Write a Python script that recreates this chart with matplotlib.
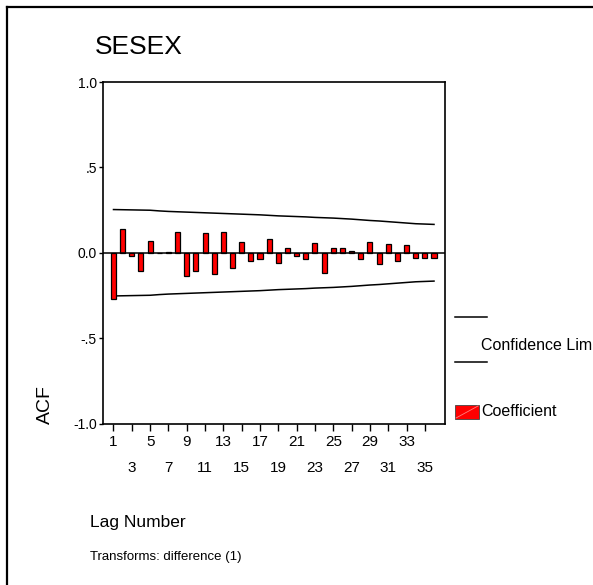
import matplotlib.pyplot as plt
from matplotlib.patches import Rectangle
from matplotlib.lines import Line2D

plt.rcParams['font.family'] = ['Liberation Sans', 'DejaVu Sans']

lags = list(range(1, 37))
acf = [
    -0.273, 0.140, -0.020, -0.107, 0.070, -0.004,
    0.003, 0.123, -0.136, -0.107, 0.115, -0.127,
    0.123, -0.092, 0.062, -0.049, -0.039, 0.080,
    -0.058, 0.025, -0.020, -0.039, 0.055, -0.117,
    0.025, 0.025, 0.008, -0.039, 0.062, -0.064,
    0.053, -0.049, 0.043, -0.029, -0.029, -0.029,
]
conf = [
    0.253, 0.252, 0.251, 0.250, 0.249, 0.245,
    0.242, 0.240, 0.238, 0.236, 0.234, 0.232,
    0.230, 0.228, 0.226, 0.224, 0.222, 0.219,
    0.216, 0.214, 0.212, 0.210, 0.207, 0.205,
    0.203, 0.200, 0.197, 0.193, 0.189, 0.186,
    0.182, 0.178, 0.174, 0.170, 0.168, 0.166,
]
yticks = [-1.0, -0.5, 0.0, 0.5, 1.0]
ytick_labels = ['-1.0', '-.5', '0.0', '.5', '1.0']
xticks = list(range(1, 36, 2))

W, H = 593, 585
fig = plt.figure(figsize=(W / 100, H / 100), dpi=100)

# outer frame, running off the right and bottom edges
fig.add_artist(Line2D([7 / W, 1.0], [1 - 7 / H, 1 - 7 / H], color='black', lw=1.6))
fig.add_artist(Line2D([7 / W, 7 / W], [1 - 7 / H, 0.0], color='black', lw=1.6))

ax = fig.add_axes([102.5 / W, 1 - 423.5 / H, (445 - 102.5) / W, (423.5 - 82) / H])
ax.bar(lags, acf, width=0.55, color='#ff0000', edgecolor='black', linewidth=0.9, zorder=3)
ax.plot(lags, conf, color='black', lw=1.1)
ax.plot(lags, [-c for c in conf], color='black', lw=1.1)
ax.axhline(0, color='black', lw=1.1, zorder=4)

ax.set_xlim(-0.2, 37.2)
ax.set_ylim(-1, 1)
ax.set_yticks(yticks)
ax.set_yticklabels(ytick_labels, fontsize=10)
ax.set_xticks(xticks)
ax.set_xticklabels([str(t) if i % 2 == 0 else '\n\n' + str(t) for i, t in enumerate(xticks)],
                   fontsize=11, linespacing=0.92)
ax.tick_params(axis='x', length=5, width=1, pad=3)
ax.tick_params(axis='y', length=3, width=1, pad=1)
for s in ax.spines.values():
    s.set_linewidth(1.2)

fig.text(95 / W, 1 - 47 / H, 'SESEX', fontsize=19, va='center', ha='left')
fig.text(45 / W, 1 - 405 / H, 'ACF', fontsize=14, rotation=90, va='center', ha='center')
fig.text(90 / W, 1 - 523 / H, 'Lag Number', fontsize=12.5, va='center', ha='left')
fig.text(90 / W, 1 - 557 / H, 'Transforms: difference (1)', fontsize=9.5, va='center', ha='left')

# legend
fig.add_artist(Line2D([455 / W, 487 / W], [1 - 317 / H, 1 - 317 / H], color='black', lw=1.1))
fig.add_artist(Line2D([455 / W, 487 / W], [1 - 362 / H, 1 - 362 / H], color='black', lw=1.1))
fig.text(481 / W, 1 - 345 / H, 'Confidence Limits', fontsize=11.5, va='center', ha='left')
fig.add_artist(Rectangle((455 / W, 1 - 419 / H), 24 / W, 14 / H, facecolor='#ff0000',
                         edgecolor='#444444', lw=0.6, transform=fig.transFigure))
fig.add_artist(Line2D([456 / W, 478 / W], [1 - 418 / H, 1 - 406 / H], color='#ff8080', lw=0.6))
fig.text(481 / W, 1 - 412 / H, 'Coefficient', fontsize=11.5, va='center', ha='left')

fig.savefig('out.png', dpi=100)
